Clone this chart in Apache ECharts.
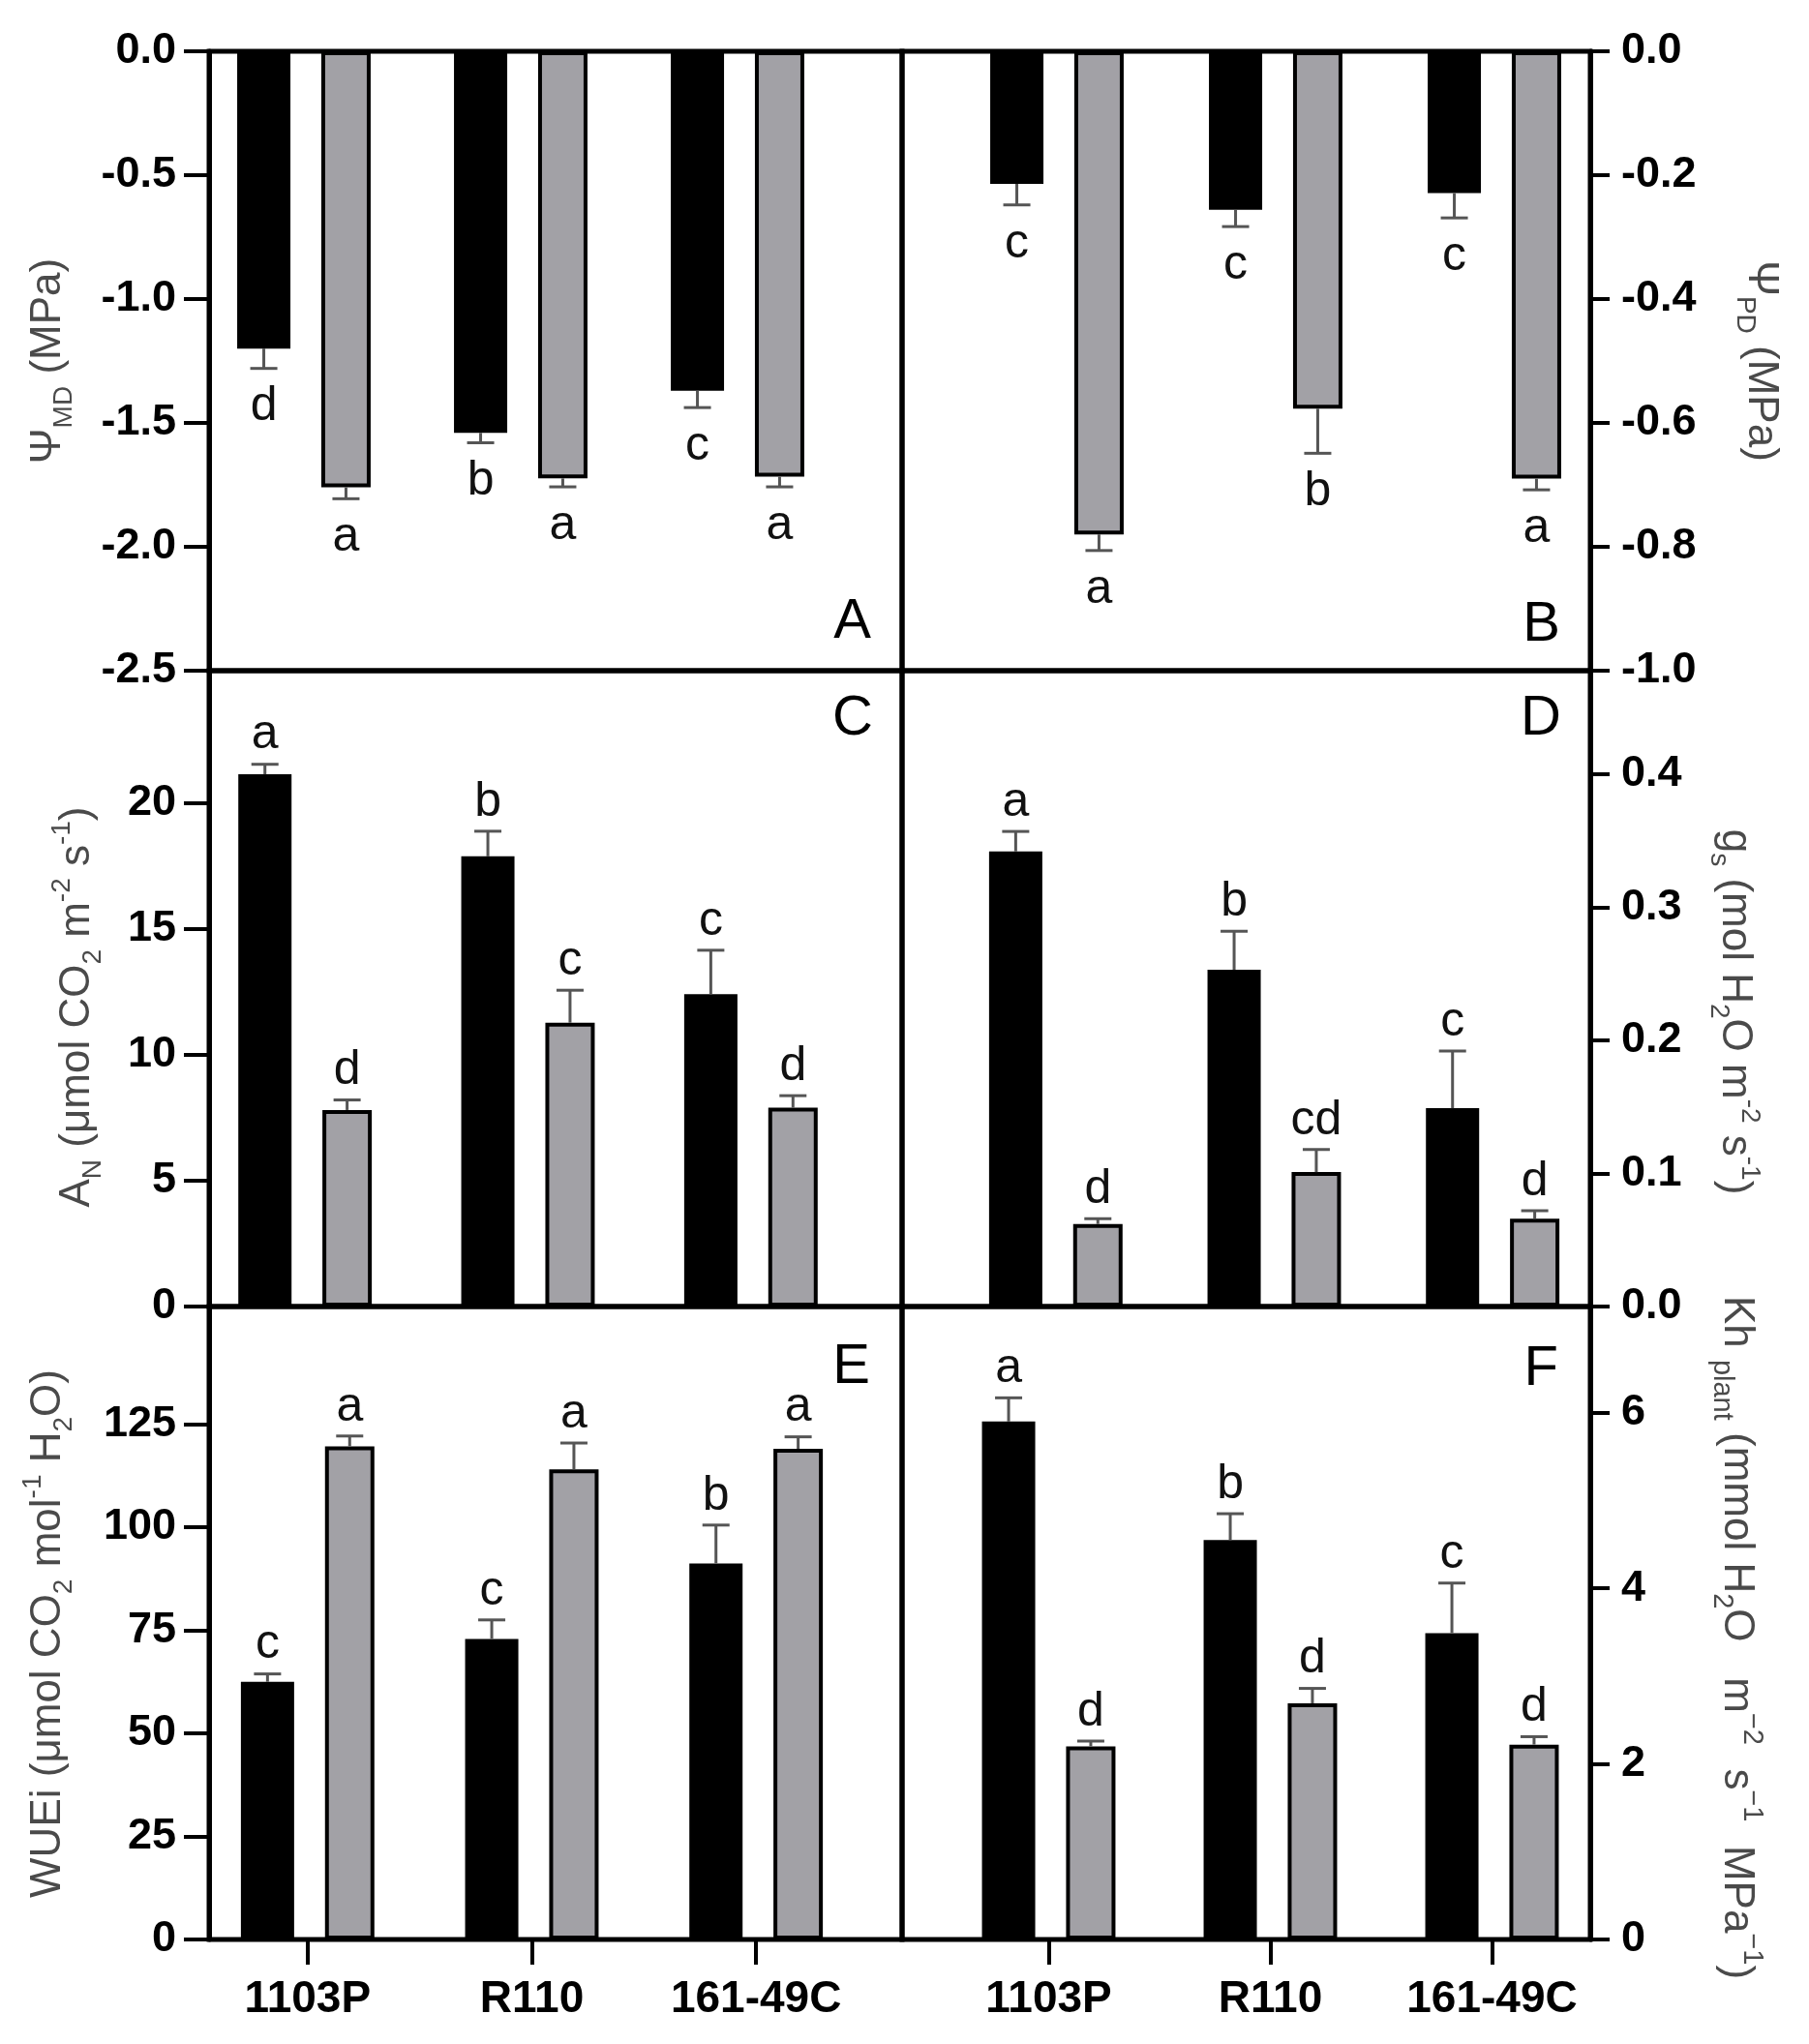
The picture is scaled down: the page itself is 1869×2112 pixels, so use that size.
<!DOCTYPE html>
<html><head><meta charset="utf-8">
<script src="https://cdn.jsdelivr.net/npm/echarts@6/dist/echarts.min.js"></script>
<style>html,body{margin:0;padding:0;background:#fff}#c{width:1869px;height:2112px}</style>
</head><body><div id="c"></div>
<script>
// ---------------- DATA ----------------
const categories = ['1103P', 'R110', '161-49C'];

// Panel A: Ψ MD (MPa)
const psiMD_black = [-1.20, -1.54, -1.37];
const psiMD_black_err = [0.08, 0.04, 0.068];
const psiMD_gray = [-1.76, -1.724, -1.717];
const psiMD_gray_err = [0.046, 0.034, 0.041];
const psiMD_black_letters = ['d', 'b', 'c'];
const psiMD_gray_letters = ['a', 'a', 'a'];

// Panel B: Ψ PD (MPa)
const psiPD_black = [-0.214, -0.256, -0.229];
const psiPD_black_err = [0.034, 0.027, 0.04];
const psiPD_gray = [-0.780, -0.577, -0.690];
const psiPD_gray_err = [0.026, 0.072, 0.018];
const psiPD_black_letters = ['c', 'c', 'c'];
const psiPD_gray_letters = ['a', 'b', 'a'];

// Panel C: A_N
const an_black = [21.15, 17.89, 12.41];
const an_black_err = [0.4, 1.0, 1.75];
const an_gray = [7.81, 11.28, 7.90];
const an_gray_err = [0.4, 1.29, 0.48];
const an_black_letters = ['a', 'b', 'c'];
const an_gray_letters = ['d', 'c', 'd'];

// Panel D: g_s
const gs_black = [0.342, 0.253, 0.149];
const gs_black_err = [0.015, 0.029, 0.043];
const gs_gray = [0.062, 0.101, 0.066];
const gs_gray_err = [0.004, 0.017, 0.006];
const gs_black_letters = ['a', 'b', 'c'];
const gs_gray_letters = ['d', 'cd', 'd'];

// Panel E: WUEi
const wue_black = [62.5, 72.9, 91.2];
const wue_black_err = [1.9, 4.6, 9.3];
const wue_gray = [119.6, 114.0, 119.0];
const wue_gray_err = [2.5, 6.4, 2.9];
const wue_black_letters = ['c', 'c', 'b'];
const wue_gray_letters = ['a', 'a', 'a'];

// Panel F: Kh plant
const kh_black = [5.90, 4.55, 3.49];
const kh_black_err = [0.27, 0.30, 0.57];
const kh_gray = [2.20, 2.69, 2.22];
const kh_gray_err = [0.06, 0.17, 0.09];
const kh_black_letters = ['a', 'b', 'c'];
const kh_gray_letters = ['d', 'd', 'd'];

// tick values (labels) for each panel's value axis
const ticksA = [-2.5, -2.0, -1.5, -1.0, -0.5, 0.0];
const ticksB = [-1.0, -0.8, -0.6, -0.4, -0.2, 0.0];
const ticksC = [0, 5, 10, 15, 20];
const ticksD = [0.0, 0.1, 0.2, 0.3, 0.4];
const ticksE = [0, 25, 50, 75, 100, 125];
const ticksF = [0, 2, 4, 6];

// axis ranges
const axisA = { min: -2.5, max: 0, dec: 1, ticks: ticksA };
const axisB = { min: -1.0, max: 0, dec: 1, ticks: ticksB };
const axisC = { min: 0, max: 25.27, dec: 0, ticks: ticksC };
const axisD = { min: 0, max: 0.4778, dec: 1, ticks: ticksD };
const axisE = { min: 0, max: 153.5, dec: 0, ticks: ticksE };
const axisF = { min: 0, max: 7.21, dec: 0, ticks: ticksF };

// ---------------- STYLE / LAYOUT ----------------
const FONT = '"Liberation Sans", Arial, Helvetica, sans-serif';
const GRAY = '#a2a1a6';
const TITLE_COLOR = '#4a4a4a';
const BW_BLACK = 55, BW_GRAY = 51, GAP_PCT = 0.58;
const GAP = BW_BLACK * GAP_PCT;
const TOTAL = BW_BLACK + GAP + BW_GRAY;
const OFF_BLACK = -TOTAL / 2 + BW_BLACK / 2;
const OFF_GRAY = TOTAL / 2 - BW_GRAY / 2;

function makeRich(main, small) {
  return {
    m: { fontSize: main, fontFamily: FONT, color: TITLE_COLOR, lineHeight: 60, verticalAlign: 'middle' },
    s: { fontSize: small, fontFamily: FONT, color: TITLE_COLOR, lineHeight: small, verticalAlign: 'bottom' },
    p: { fontSize: small, fontFamily: FONT, color: TITLE_COLOR, lineHeight: small, verticalAlign: 'top' }
  };
}
const rich = makeRich(44, 28);
const richF = makeRich(44, 29);

const panels = [
  { letter: 'A', frame: [216, 53, 716, 640], data: [202, 672], side: 'left', axis: axisA,
    black: psiMD_black, blackErr: psiMD_black_err, blackLet: psiMD_black_letters,
    gray: psiMD_gray, grayErr: psiMD_gray_err, grayLet: psiMD_gray_letters,
    name: '{m|Ψ}{s|MD}{m| (MPa)}', nameGap: 136, namePad: [0, 0, 0, 0], rich: rich,
    letterPos: [900, 672], bottom: false },
  { letter: 'B', frame: [932, 53, 711, 640], data: [979, 678], side: 'right', axis: axisB,
    black: psiPD_black, blackErr: psiPD_black_err, blackLet: psiPD_black_letters,
    gray: psiPD_gray, grayErr: psiPD_gray_err, grayLet: psiPD_gray_letters,
    name: '{m|Ψ}{s|PD}{m| (MPa)}', nameGap: 146, namePad: [0, 0, 0, 0], rich: rich,
    letterPos: [1612, 675], bottom: false },
  { letter: 'C', frame: [216, 693, 716, 657], data: [200, 691], side: 'left', axis: axisC,
    black: an_black, blackErr: an_black_err, blackLet: an_black_letters,
    gray: an_gray, grayErr: an_gray_err, grayLet: an_gray_letters,
    name: '{m|A}{s|N}{m| (μmol CO}{s|2}{m| m}{p|-2}{m| s}{p|-1}{m|)}', nameGap: 106, namePad: [0, 38, 0, 0], rich: rich,
    letterPos: [902, 772], bottom: false },
  { letter: 'D', frame: [932, 693, 711, 657], data: [978, 677], side: 'right', axis: axisD,
    black: gs_black, blackErr: gs_black_err, blackLet: gs_black_letters,
    gray: gs_gray, grayErr: gs_gray_err, grayLet: gs_gray_letters,
    name: '{m|g}{s|s}{m| (mol H}{s|2}{m|O m}{p|-2}{m| s}{p|-1}{m|)}', nameGap: 119, namePad: [0, 0, 0, 48], rich: rich,
    letterPos: [1613, 772], bottom: false },
  { letter: 'E', frame: [216, 1350, 716, 654], data: [202, 695], side: 'left', axis: axisE,
    black: wue_black, blackErr: wue_black_err, blackLet: wue_black_letters,
    gray: wue_gray, grayErr: wue_gray_err, grayLet: wue_gray_letters,
    name: '{m|WUEi (μmol CO}{s|2}{m| mol}{p|-1}{m| H}{s|2}{m|O)}', nameGap: 136, namePad: [0, 22, 0, 0], rich: rich,
    letterPos: [899, 1442], bottom: true },
  { letter: 'F', frame: [932, 1350, 711, 654], data: [969, 687], side: 'right', axis: axisF,
    black: kh_black, blackErr: kh_black_err, blackLet: kh_black_letters,
    gray: kh_gray, grayErr: kh_gray_err, grayLet: kh_gray_letters,
    name: '{m|Kh }{s|plant}{m| (mmol H}{s|2}{m|O   m}{p|−2}{m|  s}{p|−1}{m|  MPa}{p|−1}{m|)}', nameGap: 121, namePad: [0, 0, 0, 30], rich: richF,
    letterPos: [1610, 1444], bottom: true }
];

function labelFmt(ax) {
  return function (v) {
    return Math.abs(v) < 1e-9 ? (0).toFixed(ax.dec) : v.toFixed(ax.dec);
  };
}

function errSeries(vals, errs, letters, offset, idx) {
  return {
    type: 'custom', xAxisIndex: idx, yAxisIndex: idx, z: 5, clip: false, silent: true,
    data: vals.map((v, i) => [i, v, errs[i]]),
    renderItem: function (params, api) {
      const i = api.value(0), v = api.value(1), e = api.value(2);
      const sign = v < 0 ? -1 : 1;
      const p0 = api.coord([i, v]);
      const p1 = api.coord([i, v + sign * e]);
      const x = p0[0] + offset;
      const lineStyle = { stroke: '#555', lineWidth: 3 };
      const txt = letters[params.dataIndex];
      const textEl = sign > 0
        ? { type: 'text', x: x, y: p1[1] - 5, style: { text: txt, fontSize: 50, fontFamily: FONT, fill: '#111', align: 'center', verticalAlign: 'bottom' } }
        : { type: 'text', x: x, y: p1[1] + 15, style: { text: txt, fontSize: 50, fontFamily: FONT, fill: '#111', align: 'center', verticalAlign: 'top' } };
      return {
        type: 'group',
        children: [
          { type: 'line', shape: { x1: x, y1: p0[1], x2: x, y2: p1[1] }, style: lineStyle },
          { type: 'line', shape: { x1: x - 14, y1: p1[1], x2: x + 14, y2: p1[1] }, style: lineStyle },
          textEl
        ]
      };
    }
  };
}

const grid = [], xAxis = [], yAxis = [], series = [], graphicEls = [];
const N = panels.length;

panels.forEach((p, k) => {
  grid[k] = { left: p.frame[0], top: p.frame[1], width: p.frame[2], height: p.frame[3],
    show: true, borderColor: '#000', borderWidth: 5, backgroundColor: 'rgba(0,0,0,0)', z: 10,
    containLabel: false, outerBoundsMode: 'none' };
  grid[N + k] = { left: p.data[0], top: p.frame[1], width: p.data[1], height: p.frame[3],
    show: false, containLabel: false, outerBoundsMode: 'none' };

  xAxis[k] = { type: 'category', gridIndex: k, data: categories, show: false };
  xAxis[N + k] = p.bottom ? {
    type: 'category', gridIndex: N + k, data: categories,
    axisLine: { show: false },
    axisTick: { show: true, alignWithLabel: true, length: 26, lineStyle: { color: '#000', width: 4 } },
    axisLabel: { show: true, interval: 0, margin: 39, fontSize: 46, fontWeight: 'bold', fontFamily: FONT, color: '#000' },
    splitLine: { show: false }
  } : { type: 'category', gridIndex: N + k, data: categories, show: false };

  const left = p.side === 'left';
  yAxis[k] = {
    type: 'value', gridIndex: k, position: p.side,
    min: p.axis.min, max: p.axis.max,
    axisLine: { show: true, onZero: false, lineStyle: { color: '#000', width: 5 } },
    axisTick: { show: true, customValues: p.axis.ticks, length: left ? 26 : 20, lineStyle: { color: '#000', width: 4 } },
    axisLabel: { show: true, customValues: p.axis.ticks, margin: left ? 34 : 32, fontSize: 45, fontWeight: 'bold', fontFamily: FONT, color: '#000',
      formatter: labelFmt(p.axis), hideOverlap: false },
    splitLine: { show: false },
    name: p.name, nameLocation: 'middle', nameGap: p.nameGap, nameRotate: left ? 90 : -90,
    nameTextStyle: { fontFamily: FONT, fontSize: 44, color: TITLE_COLOR, rich: p.rich, padding: p.namePad }
  };
  yAxis[N + k] = { type: 'value', gridIndex: N + k, min: p.axis.min, max: p.axis.max, show: false };

  series.push({ type: 'bar', xAxisIndex: N + k, yAxisIndex: N + k, data: p.black, barWidth: BW_BLACK,
    barGap: (GAP_PCT * 100) + '%', itemStyle: { color: '#000' }, z: 2, silent: true });
  series.push({ type: 'bar', xAxisIndex: N + k, yAxisIndex: N + k, data: p.gray, barWidth: BW_GRAY,
    barGap: (GAP_PCT * 100) + '%', itemStyle: { color: GRAY, borderColor: '#000', borderWidth: 4 }, z: 2, silent: true });
  series.push(errSeries(p.black, p.blackErr, p.blackLet, OFF_BLACK, N + k));
  series.push(errSeries(p.gray, p.grayErr, p.grayLet, OFF_GRAY, N + k));

  graphicEls.push({ type: 'text', x: p.letterPos[0], y: p.letterPos[1], z: 20,
    style: { text: p.letter, fontSize: 58, fontFamily: FONT, fill: '#000', align: 'right', verticalAlign: 'bottom' } });
});

const chart = echarts.init(document.getElementById('c'), null, { renderer: 'canvas' });
chart.setOption({
  backgroundColor: '#fff',
  animation: false,
  textStyle: { fontFamily: FONT },
  grid: grid, xAxis: xAxis, yAxis: yAxis, series: series,
  graphic: { elements: graphicEls }
});
</script>
</body></html>
